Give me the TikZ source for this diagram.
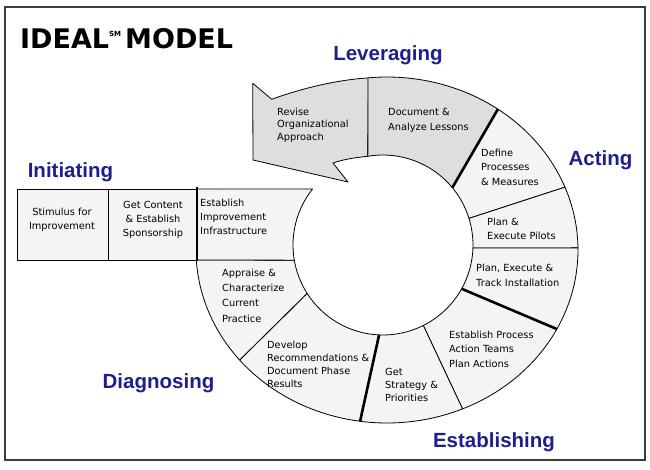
\documentclass[tikz,border=0pt]{standalone}
\usepackage{fontspec}
\setmainfont{DejaVu Sans}
\newfontfamily\phasefont{Liberation Sans}
\newfontfamily\titlefont{DejaVu Sans}
\usetikzlibrary{calc}
\definecolor{phaseblue}{RGB}{30,30,140}
\definecolor{levfill}{RGB}{222,222,222}
\definecolor{segfill}{RGB}{244,244,244}
\definecolor{framecol}{RGB}{60,60,60}
\newcommand\ringseg[5]{%
  \path[#1] ($(O)+(#2:191 and 173)$) arc[start angle=#2, end angle=#3, x radius=191, y radius=173]
    -- ($(C)+(#4:90)$) arc[start angle=#4, end angle=#5, radius=90] -- cycle;}
\newcommand\radline[3]{%
  \draw[#1] ($(O)+(#2:191 and 173)$) -- ($(C)+(#3:90)$);}
\begin{document}
\begin{tikzpicture}[x=1pt,y=-1pt,
  seg/.style={draw=black, line width=0.8pt, fill=segfill, line join=round},
  lev/.style={seg, fill=levfill},
  thickline/.style={draw=black, line width=2.6pt, line cap=butt},
  phase/.style={font=\phasefont\bfseries\fontsize{20.5}{24}\selectfont, text=phaseblue, anchor=base, inner sep=0pt},
  segtext/.style={font=\fontsize{9.8}{14}\selectfont, align=left, anchor=north west, inner sep=0pt},
  boxtext/.style={font=\fontsize{9.8}{14}\selectfont, align=center, anchor=north, inner sep=0pt}]
\useasboundingbox (0,0) rectangle (650,469);
\fill[white] (0,0) rectangle (650,469);
\draw[line width=1.2pt, draw=framecol] (5,7) rectangle (645,460);

\coordinate (O) at (387,250);
\coordinate (C) at (383,245);

% Leveraging
\path[lev] (252.7,83.3) -- (271.7,99.3) .. controls (300,89) and (335,80) .. (368.3,77.9)
  -- (367.8,156.3) .. controls (355,157.5) and (343,159.5) .. (333,163) -- (348,182) -- (253,160) -- cycle;
\ringseg{lev}{-95.7}{-54.5}{-39.6}{-99.7}
% Acting
\ringseg{seg}{-54.5}{-21.3}{-17.2}{-39.6}
\ringseg{seg}{-21.3}{-0.7}{1.9}{-17.2}
\ringseg{seg}{-0.7}{27.2}{29.1}{1.9}
% Establishing
\ringseg{seg}{27.2}{66.7}{63.4}{29.1}
\ringseg{seg}{66.7}{98.1}{92.5}{63.4}
% Diagnosing
\ringseg{seg}{98.1}{140.5}{147.5}{92.5}
\ringseg{seg}{140.5}{176.7}{170.3}{147.5}
% Initiating
\draw[seg] (17,189) rectangle (108,260);
\draw[seg] (108,189) rectangle (197,260);
\path[seg] (197,189) -- ($(C)+(218.5:90)$) arc[start angle=218.5, end angle=170.3, radius=90] -- (197,260) -- cycle;
\draw[draw=black, line width=1.8pt] (197,187) -- (197,260);

% thick phase boundaries
\radline{thickline}{-54.5}{-39.6}
\radline{thickline}{27.2}{29.1}
\radline{thickline}{98.1}{92.5}

% title
\node[anchor=base west, inner sep=0pt, font=\titlefont\bfseries\fontsize{27}{30}\selectfont] (title) at (20,48)
  {IDEAL\raisebox{12pt}{\fontsize{7}{7}\selectfont SM}\hspace{4pt}MODEL};

% phase labels
\node[phase] (leveraging) at (388,60.7) {Leveraging};
\node[phase] (acting) at (600.5,165) {Acting};
\node[phase] (initiating) at (70.5,177) {Initiating};
\node[phase] (diagnosing) at (158.5,388) {Diagnosing};
\node[phase] (establishing) at (494,447) {Establishing};

% segment texts
\node[boxtext] (stimulus) at (62,207.5) {Stimulus for\\Improvement};
\node[boxtext] (getcontent) at (153,201.5) {Get Content\\\& Establish\\Sponsorship};
\node[segtext] (infra) at (200,198.5) {Establish\\Improvement\\Infrastructure};
\node[segtext, font=\fontsize{9.8}{12.5}\selectfont] (revise) at (277,107.5) {Revise\\Organizational\\Approach};
\node[segtext, font=\fontsize{9.8}{15}\selectfont] (document) at (388,108.5) {Document \&\\Analyze Lessons};
\node[segtext, font=\fontsize{9.8}{14.5}\selectfont] (define) at (481,148.5) {Define\\Processes\\\& Measures};
\node[segtext] (pilots) at (487,217.5) {Plan \&\\Execute Pilots};
\node[segtext, font=\fontsize{9.8}{15}\selectfont] (track) at (476,263.5) {Plan, Execute \&\\Track Installation};
\node[segtext, font=\fontsize{9.8}{14.5}\selectfont] (estproc) at (449,330.5) {Establish Process\\Action Teams\\Plan Actions};
\node[segtext, font=\fontsize{9.8}{13}\selectfont] (getstrat) at (385,368.5) {Get\\Strategy \&\\Priorities};
\node[segtext, font=\fontsize{9.8}{13}\selectfont] (develop) at (267,340.5) {Develop\\Recommendations \&\\Document Phase\\Results};
\node[segtext, font=\fontsize{9.8}{15.3}\selectfont] (appraise) at (222,268.5) {Appraise \&\\Characterize\\Current\\Practice};
\end{tikzpicture}
\end{document}
